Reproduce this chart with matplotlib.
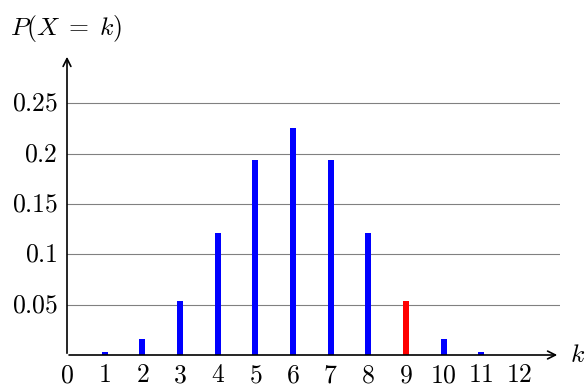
import matplotlib
matplotlib.use("Agg")
import matplotlib.pyplot as plt

plt.rcParams['mathtext.fontset'] = 'cm'
plt.rcParams['font.family'] = 'serif'
plt.rcParams['font.serif'] = ['DejaVu Serif']

k_values = [0, 1, 2, 3, 4, 5, 6, 7, 8, 9, 10, 11, 12]
probs = [0.000244, 0.00293, 0.0161, 0.0537, 0.1208, 0.1934, 0.2256,
         0.1934, 0.1208, 0.0537, 0.0161, 0.00293, 0.000244]
colors = ['blue'] * 9 + ['red'] + ['blue'] * 3
y_ticks = [0.05, 0.1, 0.15, 0.2, 0.25]
y_tick_labels = ['0.05', '0.1', '0.15', '0.2', '0.25']

FS = 18.5

fig = plt.figure(figsize=(5.87, 3.87), dpi=100)
ax = fig.add_axes([67/587, (387-355)/387, 493/587, 301/387])
ax.set_xlim(0, 13.09)
ax.set_ylim(0, 0.299)

for yt in y_ticks:
    ax.axhline(yt, color='#808080', lw=0.8, zorder=0)

ax.bar(k_values, probs, width=0.155, color=colors, zorder=2)

for s in ax.spines.values():
    s.set_visible(False)
ax.set_xticks([])
ax.set_yticks([])

for k in k_values:
    ax.text(k, -0.0195, f'${k}$', ha='center', va='center', fontsize=FS)
for yt, lab in zip(y_ticks, y_tick_labels):
    ax.text(-0.24, yt, f'${lab}$', ha='right', va='center', fontsize=FS)

ax.annotate('', xy=(13.09, 0), xytext=(-0.02, 0),
            arrowprops=dict(arrowstyle='->', lw=1.2, color='black', mutation_scale=14),
            annotation_clip=False, zorder=3)
ax.annotate('', xy=(0, 0.299), xytext=(0, -0.001),
            arrowprops=dict(arrowstyle='->', lw=1.2, color='black', mutation_scale=14),
            annotation_clip=False, zorder=3)

fig.text(578/587, 1 - 355/387, '$k$', ha='center', va='center', fontsize=FS)
fig.text(10/587, 1 - 28/387, r'$P(X\;=\;k)$', ha='left', va='center', fontsize=FS)

fig.savefig('out.png', dpi=100)
